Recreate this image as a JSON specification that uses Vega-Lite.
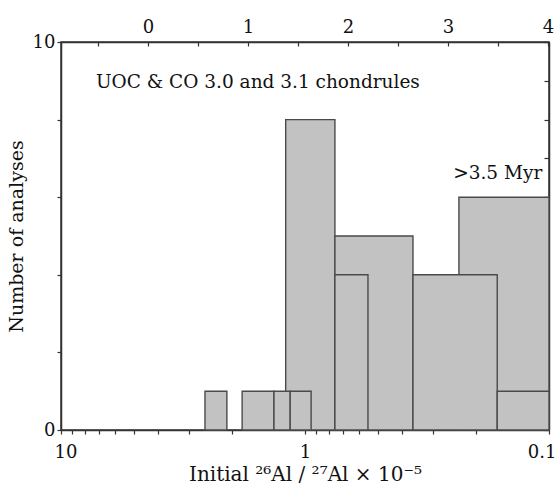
{
  "$schema": "https://vega.github.io/schema/vega-lite/v6.json",
  "width": 488,
  "height": 388,
  "autosize": {"type": "none"},
  "padding": {"left": 61, "top": 42, "right": 10, "bottom": 59},
  "background": "white",
  "config": {
    "font": "DejaVu Serif",
    "view": {"stroke": "#333333", "strokeWidth": 1.5},
    "axis": {
      "grid": false,
      "domainColor": "#333333",
      "domainWidth": 1.5,
      "tickColor": "#333333",
      "tickWidth": 1.2,
      "labelColor": "#111111",
      "titleColor": "#111111",
      "labelFont": "DejaVu Serif",
      "titleFont": "DejaVu Serif",
      "labelFontSize": 18,
      "titleFontSize": 20,
      "titleFontWeight": "normal"
    }
  },
  "resolve": {"scale": {"x": "independent"}, "axis": {"y": "independent", "x": "independent"}},
  "layer": [
    {
      "layer": [
        {
          "data": {"values": [
            {"a": 1.20, "b": 0.754, "n": 8},
            {"a": 0.754, "b": 0.361, "n": 5},
            {"a": 0.234, "b": 0.1, "n": 6},
            {"a": 0.754, "b": 0.552, "n": 4},
            {"a": 0.361, "b": 0.163, "n": 4},
            {"a": 0.163, "b": 0.1, "n": 1},
            {"a": 2.57, "b": 2.09, "n": 1},
            {"a": 1.81, "b": 1.34, "n": 1},
            {"a": 1.34, "b": 1.15, "n": 1},
            {"a": 1.15, "b": 0.944, "n": 1}
          ]},
          "mark": {"type": "rect", "fill": "#c2c2c2", "stroke": "#4a4a4a", "strokeWidth": 1.4},
          "encoding": {
            "x": {
              "field": "a", "type": "quantitative",
              "scale": {"type": "log", "domain": [0.1, 10], "reverse": true, "nice": false},
              "axis": {
                "orient": "bottom",
                "title": "Initial ²⁶Al / ²⁷Al × 10⁻⁵",
                "values": [10, 9, 8, 7, 6, 5, 4, 3, 2, 1, 0.9, 0.8, 0.7, 0.6, 0.5, 0.4, 0.3, 0.2, 0.1],
                "format": ".1~f",
                "labelExpr": "(datum.label == '10' || datum.label == '1' || datum.label == '0.1') ? datum.label : ''",
                "labelFlush": true,
                "labelFlushOffset": 7,
                "labelOverlap": false,
                "tickSize": 4,
                "labelPadding": 9,
                "titlePadding": 3
              }
            },
            "x2": {"field": "b"},
            "y": {
              "field": "n", "type": "quantitative",
              "scale": {"domain": [0, 10], "nice": false},
              "axis": {
                "orient": "left",
                "title": "Number of analyses",
                "titleFontSize": 19,
                "values": [0, 1, 2, 3, 4, 5, 6, 7, 8, 9, 10],
                "labelExpr": "datum.value % 5 == 0 ? datum.label : ''",
                "tickSize": 4,
                "labelPadding": 2,
                "titlePadding": 6
              }
            },
            "y2": {"datum": 0}
          }
        },
        {
          "data": {"values": [
            {"x": 7.19, "n": 8.97, "label": "UOC & CO 3.0 and 3.1 chondrules"},
            {"x": 0.247, "n": 6.62, "label": ">3.5 Myr"}
          ]},
          "mark": {"type": "text", "align": "left", "baseline": "middle", "fontSize": 18.5, "font": "DejaVu Serif", "color": "#111111"},
          "encoding": {
            "x": {"field": "x", "type": "quantitative"},
            "y": {"field": "n", "type": "quantitative"},
            "text": {"field": "label"}
          }
        }
      ]
    },
    {
      "data": {"values": [{"t": -0.87, "n": 0}, {"t": 4.01, "n": 10}]},
      "mark": {"type": "point", "opacity": 0},
      "encoding": {
        "x": {
          "field": "t", "type": "quantitative",
          "scale": {"domain": [-0.87, 4.01], "nice": false, "zero": false},
          "axis": {
            "orient": "top",
            "title": null,
            "values": [-0.5, 0, 0.5, 1, 1.5, 2, 2.5, 3, 3.5, 4],
            "format": ".1~f",
            "labelExpr": "datum.value % 1 == 0 ? datum.label : ''",
            "labelFlush": false,
            "labelOverlap": false,
            "tickSize": -4,
            "labelPadding": 10
          }
        },
        "y": {
          "field": "n", "type": "quantitative",
          "axis": {
            "orient": "right",
            "title": null,
            "labels": false,
            "values": [0, 1, 2, 3, 4, 5, 6, 7, 8, 9, 10],
            "tickSize": -5
          }
        }
      }
    }
  ]
}
